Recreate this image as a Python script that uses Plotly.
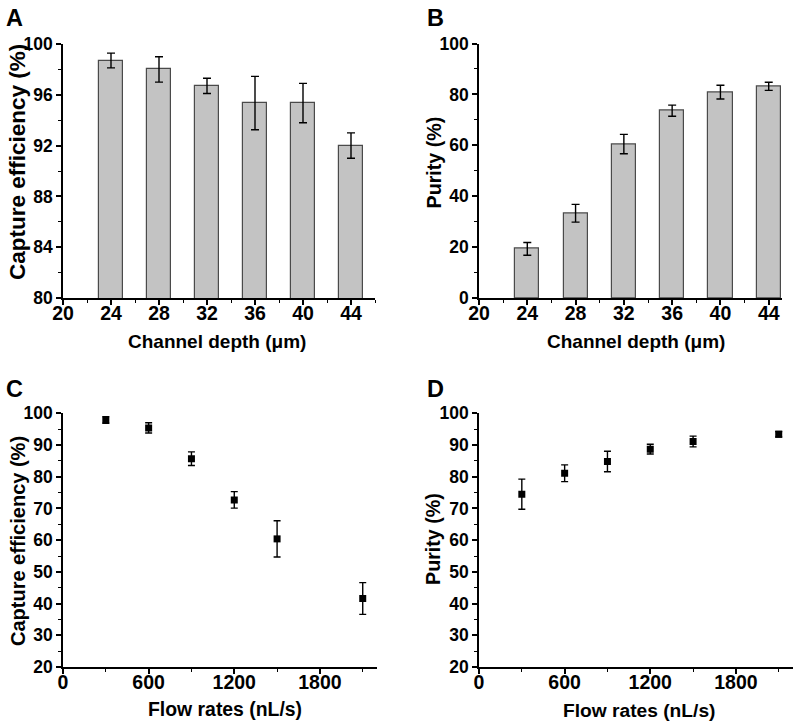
import plotly.graph_objects as go

# ---- data ----
depth = [24, 28, 32, 36, 40, 44]
capture_depth = [98.7, 98.0, 96.7, 95.35, 95.35, 92.0]
capture_depth_err = [0.58, 1.0, 0.6, 2.1, 1.55, 1.0]
purity_depth = [19.3, 33.3, 60.5, 73.6, 80.9, 83.2]
purity_depth_err = [2.5, 3.5, 3.8, 2.2, 2.7, 1.6]

flow = [300, 600, 900, 1200, 1500, 2100]
capture_flow = [97.9, 95.4, 85.7, 72.7, 60.4, 41.6]
capture_flow_err = [1.05, 1.6, 2.15, 2.6, 5.7, 5.0]
purity_flow = [74.5, 81.1, 84.8, 88.7, 91.1, 93.4]
purity_flow_err = [4.75, 2.65, 3.25, 1.55, 1.7, 0.85]

panel_labels = ["A", "B", "C", "D"]
xtitle_depth = "Channel depth (μm)"
xtitle_flow = "Flow rates (nL/s)"
ytitle_capture = "Capture efficiency (%)"
ytitle_purity = "Purity (%)"

W, H = 800, 726
FONT = "Liberation Sans, Arial, sans-serif"
BAR_FILL = "#c3c3c3"
BAR_LINE = "#4a4a4a"

fig = go.Figure()

# Panel A
fig.add_trace(go.Bar(x=depth, y=capture_depth, width=2,
                     marker=dict(color=BAR_FILL, line=dict(color=BAR_LINE, width=1.2)),
                     error_y=dict(type="data", array=capture_depth_err, color="black",
                                  thickness=1.4, width=4),
                     xaxis="x", yaxis="y", showlegend=False))
# Panel B
fig.add_trace(go.Bar(x=depth, y=purity_depth, width=2,
                     marker=dict(color=BAR_FILL, line=dict(color=BAR_LINE, width=1.2)),
                     error_y=dict(type="data", array=purity_depth_err, color="black",
                                  thickness=1.4, width=4),
                     xaxis="x2", yaxis="y2", showlegend=False))
# Panel C
fig.add_trace(go.Scatter(x=flow, y=capture_flow, mode="markers",
                         marker=dict(symbol="square", size=7, color="black"),
                         error_y=dict(type="data", array=capture_flow_err, color="black",
                                      thickness=1.4, width=3.5),
                         xaxis="x3", yaxis="y3", showlegend=False))
# Panel D
fig.add_trace(go.Scatter(x=flow, y=purity_flow, mode="markers",
                         marker=dict(symbol="square", size=7, color="black"),
                         error_y=dict(type="data", array=purity_flow_err, color="black",
                                      thickness=1.4, width=3.5),
                         xaxis="x4", yaxis="y4", showlegend=False))

xtickfont = dict(family=FONT, size=19.5, color="black", weight="bold")
ytickfont = dict(family=FONT, size=17.5, color="black", weight="bold")


def axis_common(tf, standoff=0):
    return dict(showline=True, linecolor="black", linewidth=1.5, ticks="outside",
                ticklen=5, tickwidth=1.5, tickcolor="black", showgrid=False,
                zeroline=False, tickfont=tf, mirror=False, automargin=False,
                ticklabelstandoff=standoff)


def minor(dt, t0):
    return dict(ticks="outside", ticklen=3, tickwidth=1.2, tickcolor="black", dtick=dt, tick0=t0)


def px_x(a, b):
    return [a / W, b / W]


def px_y(top, bottom):
    return [1 - bottom / H, 1 - top / H]


layout = dict(width=W, height=H, paper_bgcolor="white", plot_bgcolor="white",
              margin=dict(l=0, r=0, t=0, b=0), bargap=0)

XSO = -8
# A
layout["xaxis"] = dict(axis_common(xtickfont, XSO), domain=px_x(63, 375), range=[20, 46],
                       tickmode="linear", tick0=20, dtick=4, minor=minor(2, 20), anchor="y")
layout["yaxis"] = dict(axis_common(ytickfont), domain=px_y(44, 298), range=[80, 100],
                       tickmode="linear", tick0=80, dtick=4, minor=minor(2, 80), anchor="x")
# B
layout["xaxis2"] = dict(axis_common(xtickfont, XSO), domain=px_x(479, 782), range=[20, 45.1],
                        tickmode="linear", tick0=20, dtick=4, minor=minor(2, 20), anchor="y2")
layout["yaxis2"] = dict(axis_common(ytickfont), domain=px_y(43.5, 298), range=[0, 100],
                        tickmode="linear", tick0=0, dtick=20, minor=minor(10, 0), anchor="x2")
# C
layout["xaxis3"] = dict(axis_common(xtickfont, XSO), domain=px_x(63, 377), range=[0, 2200],
                        tickmode="linear", tick0=0, dtick=600, minor=minor(300, 0), anchor="y3")
layout["yaxis3"] = dict(axis_common(ytickfont), domain=px_y(413.3, 667), range=[20, 100],
                        tickmode="linear", tick0=20, dtick=10, minor=minor(5, 20), anchor="x3")
# D
layout["xaxis4"] = dict(axis_common(xtickfont, XSO), domain=px_x(479, 793), range=[0, 2200],
                        tickmode="linear", tick0=0, dtick=600, minor=minor(300, 0), anchor="y4")
layout["yaxis4"] = dict(axis_common(ytickfont), domain=px_y(413.3, 667), range=[20, 100],
                        tickmode="linear", tick0=20, dtick=10, minor=minor(5, 20), anchor="x4")

annotations = []


def ann(text, x, y, size, angle=0, xanchor="center", yanchor="middle"):
    annotations.append(dict(text=text, x=x / W, y=1 - y / H, xref="paper", yref="paper",
                            xanchor=xanchor, yanchor=yanchor, showarrow=False, textangle=angle,
                            font=dict(family=FONT, size=size, color="black", weight="bold")))


# panel letters
for lab, (lx, ly) in zip(panel_labels, [(4, 3), (425, 3), (4, 374), (425, 374)]):
    ann(lab, lx, ly, 23.5, xanchor="left", yanchor="top")

# x titles
ann(xtitle_depth, 217.5, 341, 19)
ann(xtitle_depth, 636, 341, 19)
ann(xtitle_flow, 225, 709, 19.4)
ann(xtitle_flow, 639, 710, 19.2)
# y titles
ann(ytitle_capture, 17, 162, 22.5, angle=-90)
ann(ytitle_purity, 433, 162.5, 19.7, angle=-90)
ann(ytitle_capture, 18, 541, 20, angle=-90)
ann(ytitle_purity, 433, 539, 19.7, angle=-90)

layout["annotations"] = annotations

fig.update_layout(**layout)
fig.write_html("out.html", config={"displayModeBar": False},
               post_script="document.body.style.margin='0';document.body.style.overflow='hidden';")
